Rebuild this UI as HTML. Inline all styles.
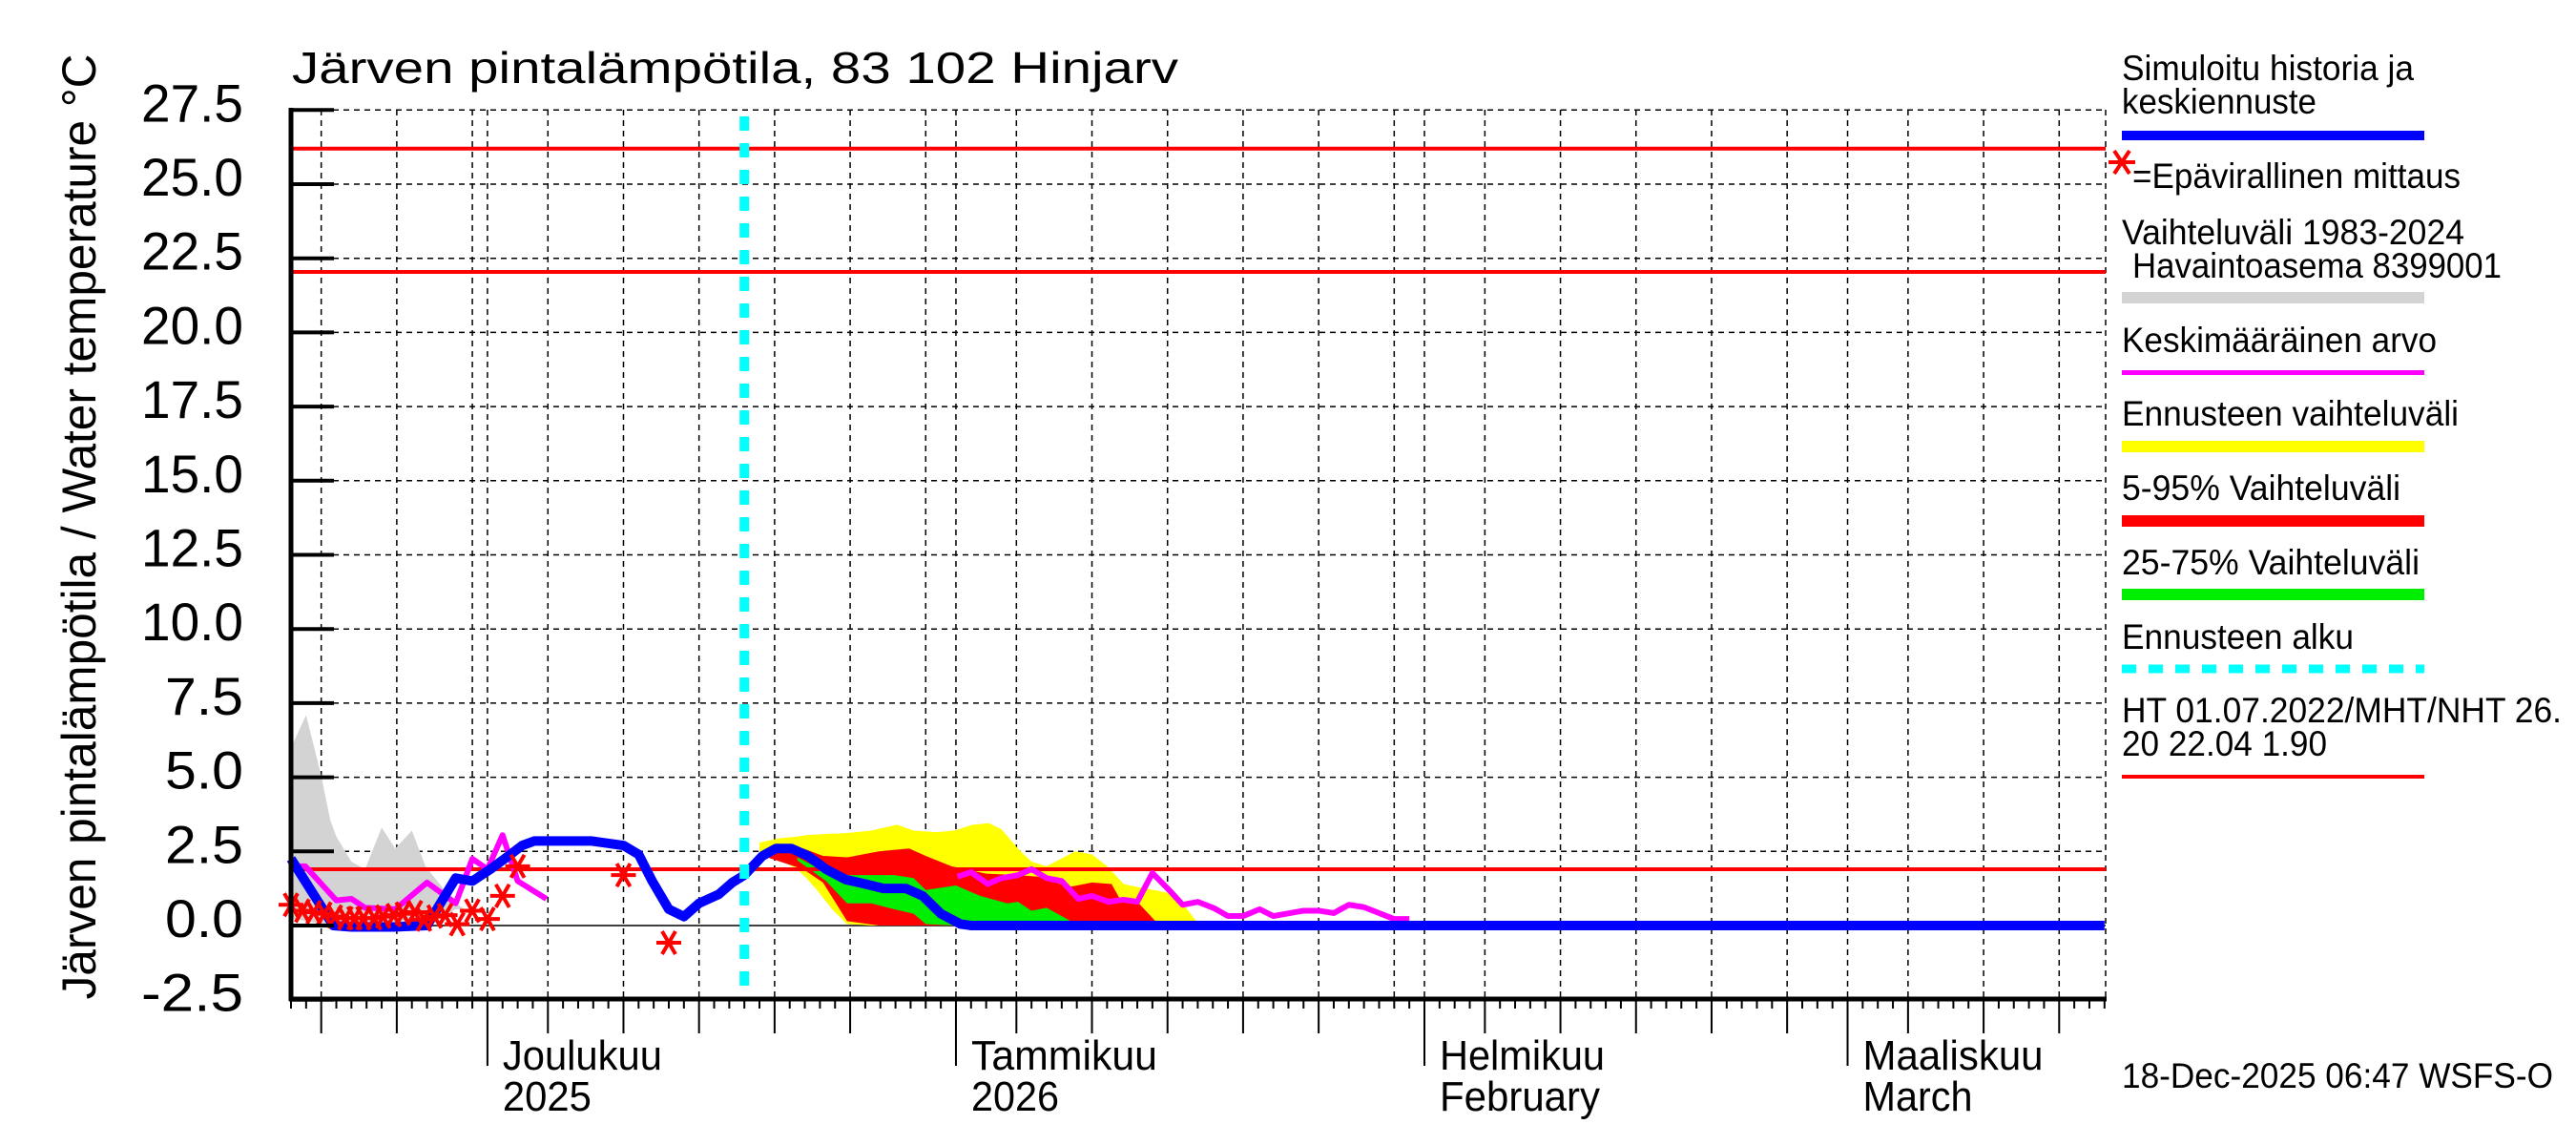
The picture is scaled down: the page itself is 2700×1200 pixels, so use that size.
<!DOCTYPE html>
<html><head><meta charset="utf-8"><style>
html,body{margin:0;padding:0;background:#fff}
svg{display:block}
text{font-family:"Liberation Sans",sans-serif;fill:#000}
</style></head><body>
<svg id="chart" width="2700" height="1200" viewBox="0 0 2700 1200" xmlns="http://www.w3.org/2000/svg">
<g id="grid"></g>
<g id="bands"></g>
<g id="lines"></g>
<g id="axes"></g>
<text x="306" y="87" font-size="46" textLength="929" lengthAdjust="spacingAndGlyphs">Järven pintalämpötila, 83 102 Hinjarv</text>
<text transform="translate(100,552) rotate(-90)" text-anchor="middle" font-size="50" textLength="991" lengthAdjust="spacingAndGlyphs">Järven pintalämpötila / Water temperature °C</text>
<g font-size="37">
<text x="2224" y="84" textLength="306" lengthAdjust="spacingAndGlyphs">Simuloitu historia ja</text>
<text x="2224" y="119" textLength="204" lengthAdjust="spacingAndGlyphs">keskiennuste</text>
<rect x="2224" y="137" width="317" height="10" fill="#0000ff"/>
<g stroke="#ff0000" stroke-width="4"><line x1="2210" y1="170" x2="2238" y2="170"/><line x1="2216" y1="158" x2="2232" y2="182"/><line x1="2232" y1="158" x2="2216" y2="182"/></g>
<text x="2235" y="197" textLength="344" lengthAdjust="spacingAndGlyphs">=Epävirallinen mittaus</text>
<text x="2224" y="256" textLength="359" lengthAdjust="spacingAndGlyphs">Vaihteluväli 1983-2024</text>
<text x="2235" y="291" textLength="387" lengthAdjust="spacingAndGlyphs">Havaintoasema 8399001</text>
<rect x="2224" y="306" width="317" height="12" fill="#d3d3d3"/>
<text x="2224" y="369" textLength="330" lengthAdjust="spacingAndGlyphs">Keskimääräinen arvo</text>
<rect x="2224" y="388" width="317" height="5" fill="#ff00ff"/>
<text x="2224" y="446" textLength="353" lengthAdjust="spacingAndGlyphs">Ennusteen vaihteluväli</text>
<rect x="2224" y="462" width="317" height="12" fill="#ffff00"/>
<text x="2224" y="524" textLength="292" lengthAdjust="spacingAndGlyphs">5-95% Vaihteluväli</text>
<rect x="2224" y="540" width="317" height="12" fill="#ff0000"/>
<text x="2224" y="602" textLength="312" lengthAdjust="spacingAndGlyphs">25-75% Vaihteluväli</text>
<rect x="2224" y="617" width="317" height="12" fill="#00ee00"/>
<text x="2224" y="680" textLength="243" lengthAdjust="spacingAndGlyphs">Ennusteen alku</text>
<line x1="2224" y1="701" x2="2541" y2="701" stroke="#00ffff" stroke-width="9" stroke-dasharray="15 13"/>
<text x="2224" y="757" textLength="461" lengthAdjust="spacingAndGlyphs">HT 01.07.2022/MHT/NHT 26.</text>
<text x="2224" y="792" textLength="215" lengthAdjust="spacingAndGlyphs">20 22.04 1.90</text>
<rect x="2224" y="812" width="317" height="4" fill="#ff0000"/>
</g>
<text x="2224" y="1140" font-size="37" textLength="452" lengthAdjust="spacingAndGlyphs">18-Dec-2025 06:47 WSFS-O</text>
</svg>
<script>
// days since 18 Nov 2025
const histD=[0,1,2,2.6,3,4,4.9,6,6.9,8,8.9,10,10.9,11.5];
const histTop=[6.0,7.1,5.05,3.55,3.0,2.15,1.9,3.3,2.6,3.2,2.0,1.3,0.75,0.55];
const histBot=[0.25,0.15,0.05,0,0,0,0,0,0,0,0,0.3,0.55,0.55];
const simD=[0,2.8,4,6.8,9,10.9,12,13.2,14.4,15.3,16.1,18.2,19.9,22,23,23.9,25,26,27,28.3,29.2,30,31.2,32.1,33.1,34.2,35.4,36.7,38,39.2,40.7,41.8,43,44.3,45,120];
const simV=[2.25,0,-0.05,-0.05,0,1.6,1.5,1.9,2.35,2.7,2.85,2.85,2.85,2.7,2.4,1.5,0.55,0.3,0.75,1.05,1.45,1.7,2.35,2.6,2.6,2.35,1.9,1.55,1.4,1.25,1.25,1.0,0.4,0.05,0,0];
const meanD1=[0,0.95,3,4,4.9,6.9,9,10.9,12,13,14,15,16.9];
const meanV1=[2.0,2.0,0.85,0.9,0.6,0.55,1.45,0.75,2.25,1.9,3.05,1.5,0.9];
const meanD2=[44.1,45,46.1,47,48.1,49,50,51,52.1,53,54.1,55.1,56,57,58.1,59,60,61.1,62,63,64.1,65,67,68,69,70,71,73,74];
const meanV2=[1.65,1.8,1.4,1.6,1.7,1.9,1.6,1.5,0.9,1.0,0.8,0.87,0.8,1.77,1.2,0.7,0.8,0.58,0.32,0.32,0.55,0.32,0.5,0.5,0.42,0.7,0.62,0.22,0.22];
const yelD=[31,32.4,33.5,34.1,34.8,35.8,36.2,36.8,38.4,40.1,41.2,42.7,43.9,45.1,46.2,47,48.1,49,50,51.9,53,54,55.1,56,57.1,58,59,59.9];
const yelTop=[2.8,2.95,3.0,3.05,3.07,3.1,3.1,3.12,3.2,3.4,3.2,3.15,3.2,3.4,3.45,3.25,2.6,2.15,2.0,2.5,2.4,2.0,1.4,1.3,1.2,1.1,0.75,0.15];
const yelBot=[2.5,2.2,1.9,1.6,1.2,0.55,0.35,0.05,0,0,0,0,0,0,0,0,0,0,0,0,0,0,0,0,0,0,0,0];
const redD=[31.5,33.9,35.2,36.8,38.9,40.9,42,43.7,46,48.1,49.4,51.5,53,54.3,54.9,56.1,57.2];
const redTop=[2.6,2.6,2.35,2.3,2.5,2.6,2.35,2.0,1.75,1.7,1.65,1.3,1.45,1.4,0.85,0.75,0.15];
const redBot=[2.3,1.9,1.45,0.15,0,0,0,0,0,0,0,0,0,0,0,0,0];
const grnD=[33.5,35.4,36.8,38.4,39.9,41.2,42,44,45.6,47.4,48.1,49,50,51.6];
const grnTop=[2.3,1.8,1.7,1.7,1.7,1.6,1.2,1.35,1.0,0.75,0.8,0.5,0.6,0.15];
const grnBot=[2.2,1.5,0.75,0.75,0.55,0.4,0.05,0,0,0,0,0,0,0];
const obsD=[0,0.75,1.5,2.2,2.9,3.6,4.2,4.8,5.5,6.1,6.8,7.4,8.2,8.8,9.5,10.2,11,12,13,14,15,22,25];
const obsV=[0.7,0.5,0.45,0.4,0.3,0.25,0.25,0.25,0.25,0.3,0.35,0.4,0.45,0.2,0.3,0.35,0.05,0.5,0.22,1.0,2.0,1.7,-0.58];
const refLines=[26.2,22.04,1.9];
const forecastStart=30;
const yTicks=["-2.5","0.0","2.5","5.0","7.5","10.0","12.5","15.0","17.5","20.0","22.5","25.0","27.5"];
const months=[{d:13,a:"Joulukuu",b:"2025",wa:167,wb:93},{d:44,a:"Tammikuu",b:"2026",wa:195,wb:92},{d:75,a:"Helmikuu",b:"February",wa:173,wb:168},{d:103,a:"Maaliskuu",b:"March",wa:189,wb:115}];

const NS="http://www.w3.org/2000/svg";
const X0=305,X1=2207,PXD=15.84;
const x=d=>X0+d*PXD;
const y=v=>970-v*31.08;
function mk(p,t,a){const e=document.createElementNS(NS,t);for(const k in a)e.setAttribute(k,a[k]);p.appendChild(e);return e;}
const G=document.getElementById('grid'),B=document.getElementById('bands'),L=document.getElementById('lines'),A=document.getElementById('axes');

// grid horizontal
yTicks.forEach(t=>{const v=parseFloat(t);
 const l=mk(G,'line',{x1:X0,x2:X1,y1:y(v),y2:y(v),stroke:'#000','stroke-width':1.5,'stroke-dasharray':v===0?'none':'6 5'});
 
 
});
// day calendar
const dayInfo=[];
const mlen=[[11,30,18],[12,31,1],[1,31,1],[2,28,1],[3,31,1]];
let dd=0;
mlen.forEach(([m,len,start])=>{for(let k=start;k<=len;k++){dayInfo.push({d:dd,day:k});dd++;}});
dayInfo.forEach(o=>{if(x(o.d)>X1+1)return;
 const isGrid=(o.day%5===0)||o.day===1;
 if(isGrid&&o.d>0){const l=mk(G,'line',{x1:x(o.d),x2:x(o.d),y1:115,y2:1047,stroke:'#000','stroke-width':1.5,'stroke-dasharray':'6 5'});
  
  }
 let len=10; if(o.day%5===0&&o.day!==30)len=36; if(o.day===1)len=70;
 const t=mk(A,'line',{x1:x(o.d),x2:x(o.d),y1:1047,y2:1047+len,stroke:'#000','stroke-width':2});
 
 
});
// right border dashed
const rb=mk(G,'line',{x1:X1,x2:X1,y1:115,y2:1047,stroke:'#000','stroke-width':1.5,'stroke-dasharray':'6 5'});



function band(xs,top,bot,fill,name){
 let p='M'+xs.map((d,i)=>x(d)+','+y(top[i])).join(' L');
 for(let i=xs.length-1;i>=0;i--)p+=' L'+x(xs[i])+','+y(bot[i]);
 const e=mk(B,'path',{d:p+' Z',fill:fill});
 
 
}
band(histD,histTop,histBot,'#d3d3d3','history-range-band');
band(yelD,yelTop,yelBot,'#ffff00','forecast-range-band');
band(redD,redTop,redBot,'#ff0000','band-5-95');
band(grnD,grnTop,grnBot,'#00ee00','band-25-75');

function line(xs,vs,col,w,name){
 const e=mk(L,'polyline',{points:xs.map((d,i)=>x(d)+','+y(vs[i])).join(' '),fill:'none',stroke:col,'stroke-width':w,'stroke-linejoin':'round'});
 
 
}
refLines.forEach(v=>{const e=mk(L,'line',{x1:X0,x2:X1,y1:y(v),y2:y(v),stroke:'#ff0000','stroke-width':4});
 
 });
line(meanD1,meanV1,'#ff00ff',6,'mean-line-history');
line(meanD2,meanV2,'#ff00ff',6,'mean-line-forecast');
line(simD,simV,'#0000ff',10,'simulated-line');
const fs=mk(L,'line',{x1:x(forecastStart),x2:x(forecastStart),y1:122,y2:1047,stroke:'#00ffff','stroke-width':10,'stroke-dasharray':'15 13'});


obsD.forEach((d,i)=>{const cx=x(d),cy=y(obsV[i]);
 const g=mk(L,'g',{stroke:'#ff0000','stroke-width':4});
 
 
 mk(g,'line',{x1:cx-13,y1:cy,x2:cx+13,y2:cy});
 mk(g,'line',{x1:cx-7,y1:cy-12,x2:cx+7,y2:cy+12});
 mk(g,'line',{x1:cx+7,y1:cy-12,x2:cx-7,y2:cy+12});
});
// axes
const ax1=mk(A,'line',{x1:X0,x2:X0,y1:113,y2:1049,stroke:'#000','stroke-width':5});


const ax2=mk(A,'line',{x1:X0-2,x2:X1+1,y1:1047,y2:1047,stroke:'#000','stroke-width':5});


yTicks.forEach(t=>{const v=parseFloat(t);
 const tk=mk(A,'line',{x1:X0,x2:350,y1:y(v),y2:y(v),stroke:'#000','stroke-width':4});
 
 
 const tx=mk(A,'text',{x:255,y:y(v)+12,'text-anchor':'end','font-size':56,textLength:t.length===4?107:82,lengthAdjust:'spacingAndGlyphs'});
 tx.textContent=t;
 
 
});
months.forEach(m=>{
 const a=mk(A,'text',{x:x(m.d)+16,y:1121,'font-size':44,textLength:m.wa,lengthAdjust:'spacingAndGlyphs'});a.textContent=m.a;
 
 
 const b=mk(A,'text',{x:x(m.d)+16,y:1164,'font-size':44,textLength:m.wb,lengthAdjust:'spacingAndGlyphs'});b.textContent=m.b;
 
 
});
</script>
</body></html>
